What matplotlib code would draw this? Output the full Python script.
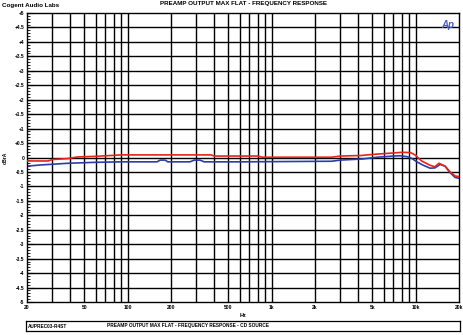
import numpy as np
import matplotlib
matplotlib.use('Agg')
import matplotlib.pyplot as plt
from matplotlib.ticker import FixedLocator, MultipleLocator, NullFormatter

# ─── DATA ─────────────────────────────────────────────────────────────────────
RED_F = [20, 28, 30, 38, 45, 60, 90, 380, 400, 800, 860, 2600, 3000, 4200,
         4600, 5500, 6700, 8100, 9200, 9900, 10500, 11000, 12600, 13600,
         14500, 16000, 17300, 18800, 20000]
RED_DB = [-0.12, -0.12, -0.07, -0.04, 0.02, 0.04, 0.09, 0.09, 0.05, 0.05,
          0.01, 0.01, 0.05, 0.07, 0.09, 0.12, 0.15, 0.18, 0.17, 0.09, -0.03,
          -0.12, -0.27, -0.32, -0.20, -0.30, -0.49, -0.64, -0.66]

BLUE_F = [20, 21, 24.6, 38.5, 57, 89, 160, 168, 182, 190, 271, 290, 318,
          340, 600, 2600, 3000, 4300, 5400, 7000, 7800, 8700, 9400, 10200,
          11200, 12600, 13600, 14800, 16000, 17300, 18800, 20000]
BLUE_DB = [-0.29, -0.29, -0.26, -0.20, -0.17, -0.15, -0.15, -0.09, -0.09,
           -0.15, -0.15, -0.09, -0.09, -0.15, -0.15, -0.13, -0.09, -0.05,
           0.01, 0.05, 0.06, 0.03, -0.03, -0.15, -0.26, -0.37, -0.36, -0.24,
           -0.30, -0.52, -0.69, -0.72]

X_TICKS = [20, 50, 100, 200, 500, 1000, 2000, 5000, 10000, 20000]
X_LABELS = ['20', '50', '100', '200', '500', '1k', '2k', '5k', '10k', '20k']
Y_TICKS = np.arange(-5, 5.01, 0.5)

TITLE = 'PREAMP OUTPUT MAX FLAT - FREQUENCY RESPONSE'
COMPANY = 'Cogent Audio Labs'
FOOT_LEFT = 'AUPREC03-R4ST'
FOOT_MID = 'PREAMP OUTPUT MAX FLAT - FREQUENCY RESPONSE - CD SOURCE'
# ──────────────────────────────────────────────────────────────────────────────

W, H = 463, 335
plt.rcParams['font.family'] = ['Liberation Sans', 'DejaVu Sans']
plt.rcParams['font.weight'] = 'bold'

fig = plt.figure(figsize=(W / 100, H / 100), dpi=100)
ax = fig.add_axes([27 / W, (H - 302) / H, (459 - 27) / W, (302 - 13) / H])

ax.plot(RED_F, RED_DB, color='#e8231a', lw=1.2, zorder=3)
ax.plot(BLUE_F, BLUE_DB, color='#2b3ea8', lw=1.2, zorder=2)

ax.set_xscale('log')
ax.set_xlim(20, 20000)
ax.set_ylim(-5, 5)

# vertical grid at every 1-2-...-9 decade step
vgrid = [m * 10 ** d for d in range(1, 5) for m in range(1, 10)]
vgrid = [v for v in vgrid if 20 < v < 20000]
for v in vgrid:
    ax.axvline(v, color='black', lw=1.0, zorder=1)
for yv in Y_TICKS[1:-1]:
    ax.axhline(yv, color='black', lw=1.0, zorder=1)

ax.xaxis.set_major_locator(FixedLocator(X_TICKS))
ax.xaxis.set_minor_formatter(NullFormatter())
ax.xaxis.set_minor_locator(FixedLocator([]))
ax.set_xticklabels(X_LABELS, fontsize=3.6, fontweight='bold')
ax.tick_params(axis='x', length=0, pad=2)

ax.yaxis.set_major_locator(FixedLocator(Y_TICKS))
ax.yaxis.set_minor_locator(MultipleLocator(0.1))
ylabels = [('+%g' % v if v > 0 else '%g' % v) for v in Y_TICKS]
ax.set_yticklabels(ylabels, fontsize=3.6, fontweight='bold')
ax.tick_params(axis='y', which='major', direction='in', length=5, width=0.8, pad=2)
ax.tick_params(axis='y', which='minor', direction='in', length=2.5, width=0.6)

for s in ax.spines.values():
    s.set_linewidth(1.0)

ax.set_ylabel('dBrA', fontsize=3.6, fontweight='bold', labelpad=6)
ax.yaxis.set_label_coords(-0.045, 0.5)
ax.set_xlabel('Hz', fontsize=4, fontweight='bold', labelpad=2)

fig.text(2 / W, 1 - 5 / H, COMPANY, fontsize=4.5, fontweight='bold', va='center')
fig.text(243 / W, 1 - 4 / H, TITLE, fontsize=4.5, fontweight='bold',
         va='center', ha='center')
ax.text(0.99, 0.975, 'Ap', transform=ax.transAxes, fontsize=7,
        fontweight='bold', style='italic', color='#4a5fc1',
        ha='right', va='top', zorder=4)

# footer box
fax = fig.add_axes([26 / W, (H - 331) / H, (460 - 26) / W, 10 / H])
fax.set_xticks([]); fax.set_yticks([])
for s in fax.spines.values():
    s.set_linewidth(0.9)
fax.text(0.005, 0.5, FOOT_LEFT, fontsize=3.4, fontweight='bold', va='center')
fax.text((107 - 26) / (460 - 26), 0.5, FOOT_MID, fontsize=3.4,
         fontweight='bold', va='center')

fig.savefig('out.png', dpi=100)
